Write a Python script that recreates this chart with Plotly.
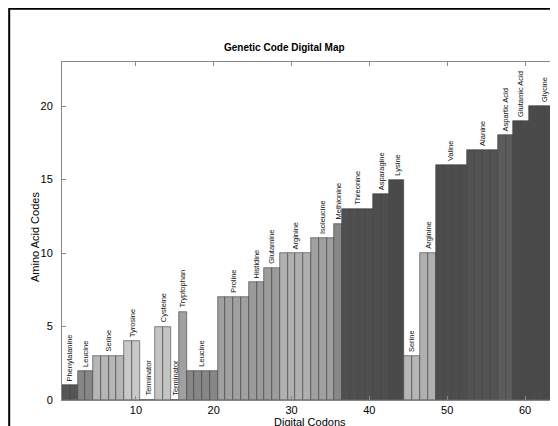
import plotly.graph_objects as go

# ---- data ----
codons = list(range(1, 65))
aa_codes = [1, 1, 2, 2, 3, 3, 3, 3, 4, 4, 0, 0, 5, 5, 0, 6,
            2, 2, 2, 2, 7, 7, 7, 7, 8, 8, 9, 9, 10, 10, 10, 10,
            11, 11, 11, 12, 13, 13, 13, 13, 14, 14, 15, 15, 3, 3, 10, 10,
            16, 16, 16, 16, 17, 17, 17, 17, 18, 18, 19, 19, 20, 20, 20, 20]
aa_names = ["Terminator", "Phenylalanine", "Leucine", "Serine", "Tyrosine",
            "Cysteine", "Tryptophan", "Proline", "Histidine", "Glutamine",
            "Arginine", "Isoleucine", "Methionine", "Threonine", "Asparagine",
            "Lysine", "Valine", "Alanine", "Aspartic Acid", "Glutamic Acid",
            "Glycine"]
aa_gray = ["#ffffff", "#555555", "#878787", "#b6b6b6", "#c8c8c8",
           "#c4c4c4", "#a0a0a0", "#a0a0a0", "#9a9a9a", "#9c9c9c",
           "#b0b0b0", "#a0a0a0", "#888888", "#4f4f4f", "#4e4e4e",
           "#4a4a4a", "#4d4d4d", "#525252", "#5c5c5c", "#4a4a4a",
           "#4a4a4a"]
x_ticks = [10, 20, 30, 40, 50, 60]
y_ticks = [0, 5, 10, 15, 20]

FONT = "Liberation Sans, Arial, Helvetica, sans-serif"
OFF = 8  # page body margin offset
W, H = 558 - OFF, 426 - OFF
L, R, T, B = 54, 0, 54, 26
PW, PH = W - L - R, H - T - B


def px(x):
    return (x - OFF - L) / PW


def py(y):
    return (H - B - (y - OFF)) / PH


fig = go.Figure()
fig.add_trace(go.Bar(
    x=codons, y=aa_codes, width=1.0,
    marker=dict(color=[aa_gray[c] for c in aa_codes],
                line=dict(color="#3c3c3c", width=0.6)),
    showlegend=False, hoverinfo="x+y"))

# group labels (one per run of identical codes)
annotations = []
i = 0
while i < len(codons):
    j = i
    while j + 1 < len(codons) and aa_codes[j + 1] == aa_codes[i]:
        j += 1
    xc = (codons[i] + codons[j]) / 2
    annotations.append(dict(
        x=xc, y=aa_codes[i], xref="x", yref="y", text=aa_names[aa_codes[i]],
        textangle=-90, showarrow=False, xanchor="center", yanchor="bottom",
        yshift=2, font=dict(family=FONT, size=7.5, color="#111111")))
    i = j + 1

annotations += [
    dict(x=px(284), y=py(47), xref="paper", yref="paper",
         text="<b>Genetic Code Digital Map</b>", showarrow=False,
         xanchor="center", yanchor="middle",
         font=dict(family=FONT, size=10, color="#000000")),
    dict(x=px(35), y=py(237), xref="paper", yref="paper",
         text="Amino Acid Codes", textangle=-90, showarrow=False,
         xanchor="center", yanchor="middle",
         font=dict(family=FONT, size=11, color="#000000")),
    dict(x=px(310), y=py(414), xref="paper", yref="paper",
         text="Digital Codons", showarrow=False,
         xanchor="center", yanchor="top",
         font=dict(family=FONT, size=11, color="#000000")),
]

shapes = [
    dict(type="line", xref="paper", yref="paper", x0=px(9), x1=px(W + 20),
         y0=py(OFF + 0.8), y1=py(OFF + 0.8), line=dict(color="#000000", width=2)),
    dict(type="line", xref="paper", yref="paper", x0=px(OFF + 1.2), x1=px(OFF + 1.2),
         y0=py(OFF), y1=py(H + 20), line=dict(color="#000000", width=2)),
]

fig.update_layout(
    width=W, height=H, margin=dict(l=L, r=R, t=T, b=B),
    paper_bgcolor="#ffffff", plot_bgcolor="#ffffff",
    bargap=0, annotations=annotations, shapes=shapes,
    font=dict(family=FONT, size=11, color="#000000"),
    xaxis=dict(range=[0.5, 64.24], tickvals=x_ticks, ticks="inside",
               ticklen=4, tickcolor="#888888", showline=True,
               linecolor="#888888", linewidth=1, mirror="ticks",
               showgrid=False, zeroline=False,
               tickfont=dict(family=FONT, size=11, color="#000000")),
    yaxis=dict(range=[0, 23], tickvals=y_ticks, ticks="inside",
               ticklen=4, tickcolor="#888888", showline=True,
               linecolor="#888888", linewidth=1, mirror="ticks",
               showgrid=False, zeroline=False, ticklabelstandoff=6,
               tickfont=dict(family=FONT, size=11, color="#000000")),
)

fig.write_html("out.html")
